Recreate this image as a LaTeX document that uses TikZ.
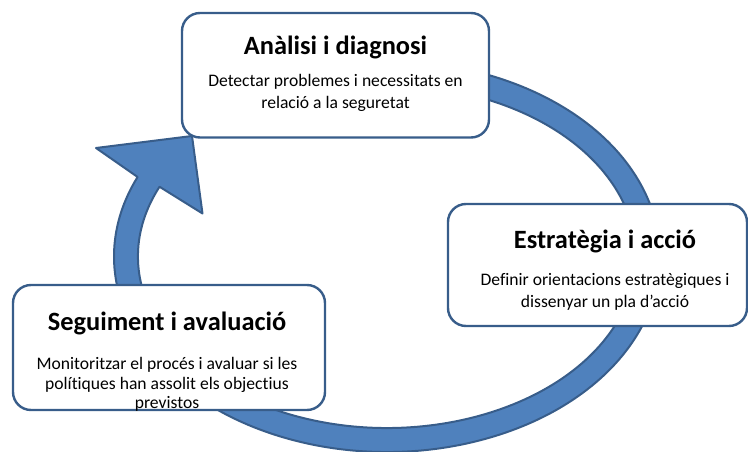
\documentclass[tikz,border=0pt]{standalone}
\usepackage{fontspec}
\setmainfont{Carlito}[Ligatures={NoCommon,NoRare,NoDiscretionary}]
\definecolor{ringfill}{HTML}{4F81BD}
\definecolor{ringline}{HTML}{385D8A}
\begin{document}
\begin{tikzpicture}[x=1pt,y=-1pt,
  box/.style={draw=ringline, line width=2.4pt, fill=white, rounded corners=18pt, inner sep=0pt},
  ttl/.style={anchor=base, font=\fontsize{26.4}{31}\selectfont\bfseries, inner sep=0pt},
  txt/.style={anchor=base, font=\fontsize{17.6}{21.6}\selectfont, inner sep=0pt},
  ring/.style={fill=ringfill, draw=ringline, line width=2pt, line join=round}]
\useasboundingbox (0,0) rectangle (748,452);
\coordinate (C) at (387,256.5);
\coordinate (wl) at (96,148);
\coordinate (tip) at (192,136);
\coordinate (wr) at (202.5,213.5);
\draw[ring] ([shift={(C)}]110:273pt and 195.5pt)
  arc[start angle=110,end angle=-204,x radius=273pt,y radius=195.5pt]
  -- (wl) -- (tip) -- (wr)
  -- ([shift={(C)}]-204:249pt and 171.5pt)
  arc[start angle=-204,end angle=110,x radius=249pt,y radius=171.5pt] -- cycle;
% boxes
\node[box, minimum width=307pt, minimum height=124.5pt] (b1) at (335.5,75.25) {};
\node[box, minimum width=299pt, minimum height=122pt] (b2) at (597.5,265) {};
\node[box, minimum width=312pt, minimum height=125pt] (b3) at (169,347.5) {};
% texts
\node[ttl] (t1) at (335.5,55) {Anàlisi i diagnosi};
\node[txt] (t1a) at (335.5,86.7) {Detectar problemes i necessitats en};
\node[txt] (t1b) at (335.5,108.3) {relació a la seguretat};
\node[ttl] (t2) at (605,248) {Estratègia i acció};
\node[txt] (t2a) at (605,285.7) {Definir orientacions estratègiques i};
\node[txt] (t2b) at (605,307) {dissenyar un pla d’acció};
\node[ttl] (t3) at (167,330) {Seguiment i avaluació};
\node[txt] (t3a) at (167,369) {Monitoritzar el procés i avaluar si les};
\node[txt] (t3b) at (167,389) {polítiques han assolit els objectius};
\node[txt] (t3c) at (167,408) {previstos};
\end{tikzpicture}
\end{document}
